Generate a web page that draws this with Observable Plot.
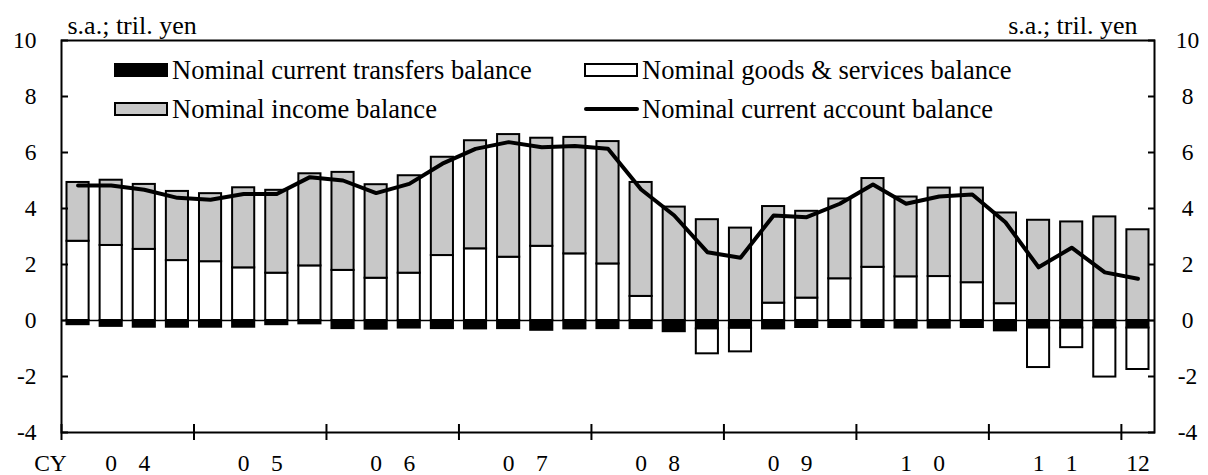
<!DOCTYPE html>
<html><head><meta charset="utf-8">
<script src="https://cdn.jsdelivr.net/npm/d3@7"></script>
<script src="https://cdn.jsdelivr.net/npm/@observablehq/plot@0.6"></script>
<style>body{margin:0;background:#fff;}</style>
</head><body><div id="chart"></div>
<script>
// Quarterly data, 2004Q1 .. 2012Q1 (s.a.; tril. yen)
const yearLabels = ["04","05","06","07","08","09","10","11","12"];
const seriesNames = ["Nominal current transfers balance","Nominal goods & services balance","Nominal income balance"];
const lineName = "Nominal current account balance";
const seriesColors = ["#000000","#ffffff","#c8c8c8"];
const yTicks = [-4,-2,0,2,4,6,8,10];
const unitLabel = "s.a.; tril. yen";
const cyLabel = "CY";

const transfers = [-0.15,-0.21,-0.24,-0.24,-0.24,-0.24,-0.15,-0.12,-0.29,-0.31,-0.27,
  -0.29,-0.30,-0.29,-0.35,-0.30,-0.29,-0.29,-0.40,-0.30,-0.28,-0.30,-0.25,
  -0.25,-0.25,-0.27,-0.27,-0.25,-0.37,-0.27,-0.27,-0.27,-0.27];
const goods = [2.83,2.68,2.54,2.14,2.10,1.88,1.69,1.95,1.79,1.51,1.69,
  2.32,2.56,2.26,2.65,2.38,2.02,0.86,0.00,-0.89,-0.84,0.62,0.80,
  1.49,1.90,1.56,1.57,1.35,0.60,-1.41,-0.70,-1.75,-1.48];
const income = [2.10,2.33,2.32,2.47,2.43,2.86,2.96,3.29,3.50,3.34,3.48,
  3.51,3.86,4.38,3.86,4.16,4.37,4.07,4.05,3.60,3.30,3.45,3.10,
  2.85,3.17,2.85,3.16,3.38,3.24,3.58,3.52,3.70,3.24];
const currentAccount = [4.82,4.82,4.67,4.38,4.31,4.52,4.52,5.12,5.00,4.55,4.88,
  5.60,6.13,6.37,6.19,6.23,6.13,4.68,3.75,2.44,2.24,3.75,3.69,
  4.17,4.86,4.17,4.43,4.50,3.51,1.90,2.60,1.72,1.49];

const n = goods.length;
const seriesValues = [transfers, goods, income];
const stackData = [];
for (let i = 0; i < n; i++) seriesValues.forEach((arr, s) => stackData.push({i, series: seriesNames[s], value: arr[i]}));
const lineData = currentAccount.map((v, i) => ({i, v}));

// x tick positions (year boundaries) and labels
const yearStarts = yearLabels.map((_, k) => k * 4);
const xLabelData = [];
yearLabels.forEach((lab, k) => {
  const start = k * 4, q = Math.min(4, n - start);
  if (q >= 4) { xLabelData.push({x: start + 1.5, t: lab[0]}, {x: start + 2.5, t: lab[1]}); }
  else xLabelData.push({x: start + q / 2, t: lab});
});

const FONT = "'Liberation Serif','Times New Roman',serif";
const chart = Plot.plot({
  width: 1208, height: 475,
  marginLeft: 61, marginRight: 54, marginTop: 40, marginBottom: 43,
  style: {fontFamily: FONT, color: "black", background: "white"},
  x: {domain: [0, n]},
  y: {domain: [-4, 10]},
  color: {domain: seriesNames, range: seriesColors},
  marks: [
    Plot.ruleY([0], {stroke: "black", strokeWidth: 1.5}),
    Plot.rectY(stackData, {x1: "i", x2: d => d.i + 1, y: "value", fill: "series",
      stroke: "black", strokeWidth: 2, insetLeft: 5.5, insetRight: 5.5}),
    Plot.line(lineData, {x: d => d.i + 0.5, y: "v", stroke: "black", strokeWidth: 4,
      strokeLinejoin: "round", strokeLinecap: "round"}),
    Plot.frame({stroke: "black", strokeWidth: 2}),
    // y tick labels (left and right)
    Plot.text(yTicks, {y: d => d, text: d => String(d), frameAnchor: "left", dx: -25,
      textAnchor: "end", lineAnchor: "middle", fontSize: 23.5}),
    Plot.text(yTicks, {y: d => d, text: d => String(d), frameAnchor: "right", dx: 33,
      textAnchor: "middle", lineAnchor: "middle", fontSize: 23.5}),
    // inward tick marks
    Plot.axisY(yTicks, {anchor: "left", tickSize: 7, dx: 7, fill: "none", strokeWidth: 2, label: null}),
    Plot.axisY(yTicks, {anchor: "right", tickSize: 7, dx: -7, fill: "none", strokeWidth: 2, label: null}),
    Plot.axisX(yearStarts, {anchor: "bottom", tickSize: 16, dy: -8, fill: "none", strokeWidth: 2, label: null}),
    // x labels
    Plot.text(xLabelData, {x: "x", text: "t", frameAnchor: "bottom", dy: 31, lineAnchor: "middle", fontSize: 23.5}),
    Plot.text([cyLabel], {text: d => d, frameAnchor: "bottom-left", dx: -11, dy: 31,
      textAnchor: "middle", lineAnchor: "middle", fontSize: 23.5}),
    Plot.text([unitLabel], {text: d => d, frameAnchor: "top-left", dx: 6, dy: -15,
      textAnchor: "start", lineAnchor: "middle", fontSize: 26}),
    Plot.text([unitLabel], {text: d => d, frameAnchor: "top-right", dx: -17, dy: -15,
      textAnchor: "end", lineAnchor: "middle", fontSize: 26})
  ]
});
document.getElementById("chart").appendChild(chart);

// Legend inside the plot area
const svg = d3.select(chart);
const lg = svg.append("g").attr("font-family", FONT).attr("font-size", 26.5)
  .attr("fill", "black").attr("text-anchor", "start");
const items = [
  {name: seriesNames[0], fill: seriesColors[0], col: 0, row: 0},
  {name: seriesNames[1], fill: seriesColors[1], col: 1, row: 0},
  {name: seriesNames[2], fill: seriesColors[2], col: 0, row: 1},
  {name: lineName, line: true, col: 1, row: 1}
];
const colX = [115, 585], rowY = [70, 109];
items.forEach(it => {
  const x = colX[it.col], y = rowY[it.row];
  if (it.line) {
    lg.append("line").attr("x1", x + 1).attr("x2", x + 52).attr("y1", y).attr("y2", y)
      .attr("stroke", "black").attr("stroke-width", 4).attr("stroke-linecap", "round");
  } else {
    lg.append("rect").attr("x", x).attr("y", y - 6).attr("width", 52).attr("height", 12)
      .attr("fill", it.fill).attr("stroke", "black").attr("stroke-width", 2);
  }
  lg.append("text").attr("x", x + 57).attr("y", y + 9).attr("text-anchor", "start").text(it.name);
});
</script></body></html>
